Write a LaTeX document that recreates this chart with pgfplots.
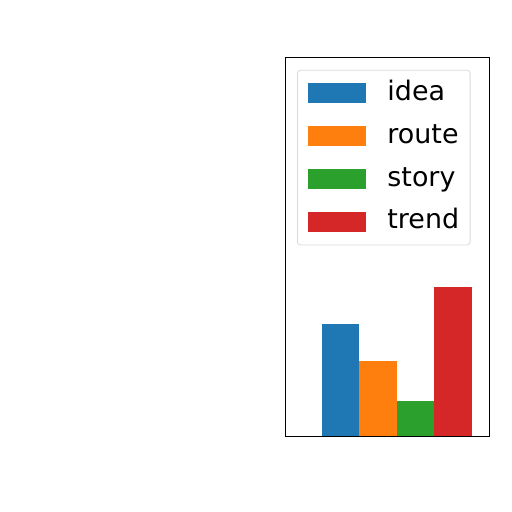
\documentclass[border=0pt]{standalone}
\usepackage{pgfplots}
\pgfplotsset{compat=1.18}
\usepackage{fontspec}
\setmainfont{DejaVu Sans}
\definecolor{tabblue}{HTML}{1F77B4}
\definecolor{taborange}{HTML}{FF7F0E}
\definecolor{tabgreen}{HTML}{2CA02C}
\definecolor{tabred}{HTML}{D62728}
\begin{document}
\begin{tikzpicture}[x=1bp,y=1bp]
\useasboundingbox (0,0) rectangle (512,512);
\begin{axis}[
  at={(285bp,76bp)}, anchor=south west,
  scale only axis, width=204bp, height=379bp,
  xmin=-1.47, xmax=3.95, ymin=0, ymax=10.16,
  xtick=\empty, ytick=\empty,
  axis line style={line width=0.9bp},
  ybar, bar width=1,
  every axis plot/.append style={bar shift=0pt, draw=none},
  legend cell align=left,
  legend image code/.code={\fill[#1, sharp corners] (0bp,-10bp) rectangle (58bp,10bp);},
  legend style={
    at={(0.059,0.966)}, anchor=north west,
    draw=black!15, rounded corners=3bp, line width=0.8bp,
    inner xsep=11bp, inner ysep=10bp,
    column sep=21bp, row sep=16.9bp,
    font=\fontsize{27}{32}\selectfont,
    nodes={inner sep=0pt, text height=20bp, text depth=6bp},
  },
]
\addplot[fill=tabblue] coordinates {(0,3)};
\addplot[fill=taborange] coordinates {(1,2)};
\addplot[fill=tabgreen] coordinates {(2,0.95)};
\addplot[fill=tabred] coordinates {(3,4)};
\legend{idea,route,story,trend}
\end{axis}
\end{tikzpicture}
\end{document}
